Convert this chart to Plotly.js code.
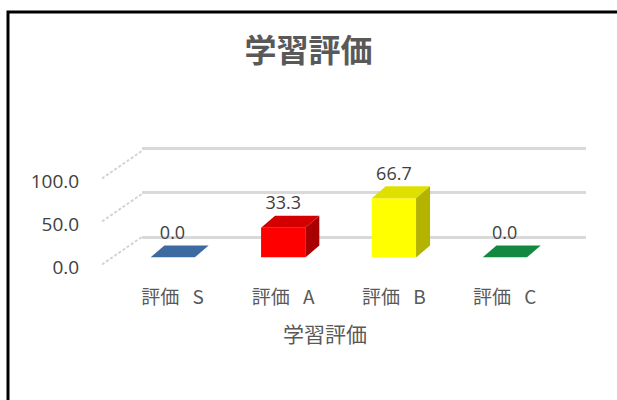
<!DOCTYPE html>
<html>
<head>
<meta charset="utf-8">
<script src="https://cdn.plot.ly/plotly-3.0.1.min.js"></script>
<style>html,body{margin:0;padding:0;background:#fff;overflow:hidden;}#chart{width:617px;height:400px;}</style>
</head>
<body>
<div id="chart"></div>
<script>
// ---- data ----
const categories = ['評価\u2002\u2009S', '評価\u2002\u2009A', '評価\u2002\u2009B', '評価\u2002\u2009C'];
const values = [0.0, 33.3, 66.7, 0.0];
const yTickVals = [0, 50, 100];
const yTickText = ['0.0', '50.0', '100.0'];
const chartTitle = '学習評価';
const xAxisTitle = '学習評価';

// ---- styles ----
const frontColors = ['#4a7cba', '#ff0000', '#ffff00', '#16a34a'];
const topColors   = ['#3d6aa0', '#d40000', '#e0e000', '#12893e'];
const sideColors  = ['#2f5382', '#a80000', '#b3b300', '#0c6b30'];
const W = 617, H = 400;
const CJK = '"Noto Sans CJK JP", "Noto Sans", sans-serif';
const NUM = '"Open Sans", "Noto Sans", sans-serif';

// pseudo-3D geometry (pixels) converted to data units
const CAT_PX = 110.7, FIRST_CENTER_PX = 172.5;
const FRONT_ZERO_PX = 257.5, FRONT_PX_PER_UNIT = 0.89;
const DEPTH_X_PX = 14, DEPTH_Y_PX = 12;
const BAR_W = 0.4;
const dxU = DEPTH_X_PX / CAT_PX;
const dyU = DEPTH_Y_PX / FRONT_PX_PER_UNIT;
const LABEL_LIFT = 2 / FRONT_PX_PER_UNIT;

function yDomain(zeroPx, pxPerUnit, r0, r1) {
  const pTop = zeroPx - r1 * pxPerUnit, pBot = zeroPx - r0 * pxPerUnit;
  return [1 - pBot / H, 1 - pTop / H];
}

const traces = [];
// back-wall grid subplot
traces.push({x: [], y: [], type: 'scatter', xaxis: 'x', yaxis: 'y', hoverinfo: 'skip'});

// side-wall lines
const WALL_LEFT_RISE = 3, WALL_RIGHT_RISE = 35;
yTickVals.forEach(v => {
  traces.push({
    x: [0, 1], y: [v + WALL_LEFT_RISE, v + WALL_RIGHT_RISE],
    type: 'scatter', mode: 'lines', xaxis: 'x3', yaxis: 'y3',
    line: {color: '#d4d4d4', width: 2, dash: '3px,2px'}, hoverinfo: 'skip'
  });
});

// front faces
const idx = categories.map((c, i) => i);
traces.push({
  x: idx, y: values, type: 'bar', width: BAR_W, xaxis: 'x2', yaxis: 'y2',
  marker: {color: frontColors, line: {width: 0}}, hoverinfo: 'skip'
});
// top and side faces computed from values
values.forEach((v, i) => {
  const l = i - BAR_W / 2, r = i + BAR_W / 2;
  traces.push({
    x: [l, r, r + dxU, l + dxU, l], y: [v, v, v + dyU, v + dyU, v],
    type: 'scatter', mode: 'lines', fill: 'toself', fillcolor: topColors[i],
    line: {width: 0, color: topColors[i]}, xaxis: 'x2', yaxis: 'y2', hoverinfo: 'skip'
  });
  if (v > 0) {
    traces.push({
      x: [r, r, r + dxU, r + dxU, r], y: [0, v, v + dyU, dyU, 0],
      type: 'scatter', mode: 'lines', fill: 'toself', fillcolor: sideColors[i],
      line: {width: 0, color: sideColors[i]}, xaxis: 'x2', yaxis: 'y2', hoverinfo: 'skip'
    });
  }
});
// data labels
traces.push({
  x: idx, y: values.map(v => v + dyU + LABEL_LIFT), text: values.map(v => v.toFixed(1)),
  type: 'scatter', mode: 'text', textposition: 'top center',
  textfont: {family: NUM, size: 18, color: '#404040'}, cliponaxis: false,
  xaxis: 'x2', yaxis: 'y2', hoverinfo: 'skip'
});

const x2d0 = FIRST_CENTER_PX - CAT_PX / 2;
const x2d1 = FIRST_CENTER_PX + CAT_PX * (categories.length - 0.5);
const bx = 8 / W, by = 1 - 12 / H;

const layout = {
  width: W, height: H, autosize: false,
  margin: {l: 0, r: 0, t: 0, b: 0, pad: 0},
  paper_bgcolor: '#ffffff', plot_bgcolor: 'rgba(0,0,0,0)',
  showlegend: false,
  title: {text: '<b>' + chartTitle + '</b>', x: 0.5, xanchor: 'center', xref: 'paper',
          y: 1 - 51 / H, yanchor: 'middle', yref: 'paper',
          font: {family: CJK, size: 32, color: '#595959'}},
  xaxis: {domain: [142 / W, 586 / W], range: [0, 1], visible: false, fixedrange: true},
  yaxis: {domain: yDomain(237, 0.89, -10, 110), range: [-10, 110], anchor: 'x',
          tickvals: yTickVals, showticklabels: false, ticks: '', showgrid: true,
          gridcolor: '#d9d9d9', gridwidth: 3, zeroline: false, showline: false},
  xaxis2: {domain: [x2d0 / W, x2d1 / W], range: [-0.5, categories.length - 0.5], anchor: 'y2',
           tickvals: idx, ticktext: categories, ticks: 'outside', ticklen: 23,
           tickcolor: 'rgba(0,0,0,0)', showgrid: false, zeroline: false, showline: false,
           tickfont: {family: CJK, size: 19, color: '#595959'}},
  yaxis2: {domain: yDomain(FRONT_ZERO_PX, FRONT_PX_PER_UNIT, 0, 100), range: [0, 100], anchor: 'x2',
           visible: false, showgrid: false, zeroline: false},
  xaxis3: {domain: [102 / W, 142 / W], range: [0, 1], visible: false, anchor: 'y3'},
  yaxis3: {domain: yDomain(267, 0.86, -5, 140), range: [-5, 140], anchor: 'x3',
           tickvals: yTickVals, ticktext: yTickText, ticks: 'outside', ticklen: 18,
           tickcolor: 'rgba(0,0,0,0)', showgrid: false, zeroline: false, showline: false,
           tickfont: {family: NUM, size: 19, color: '#404040'}},
  annotations: [{text: xAxisTitle, xref: 'paper', yref: 'paper', x: 325 / W, y: 1 - 333 / H,
                 xanchor: 'center', yanchor: 'middle', showarrow: false,
                 font: {family: CJK, size: 21, color: '#595959'}}],
  shapes: [{type: 'path', xref: 'paper', yref: 'paper',
            path: 'M ' + bx + ',-0.02 L ' + bx + ',' + by + ' L 1.02,' + by,
            line: {color: '#000000', width: 3}, fillcolor: 'rgba(0,0,0,0)'}]
};

Plotly.newPlot('chart', traces, layout, {staticPlot: true, displayModeBar: false});
</script>
</body>
</html>
